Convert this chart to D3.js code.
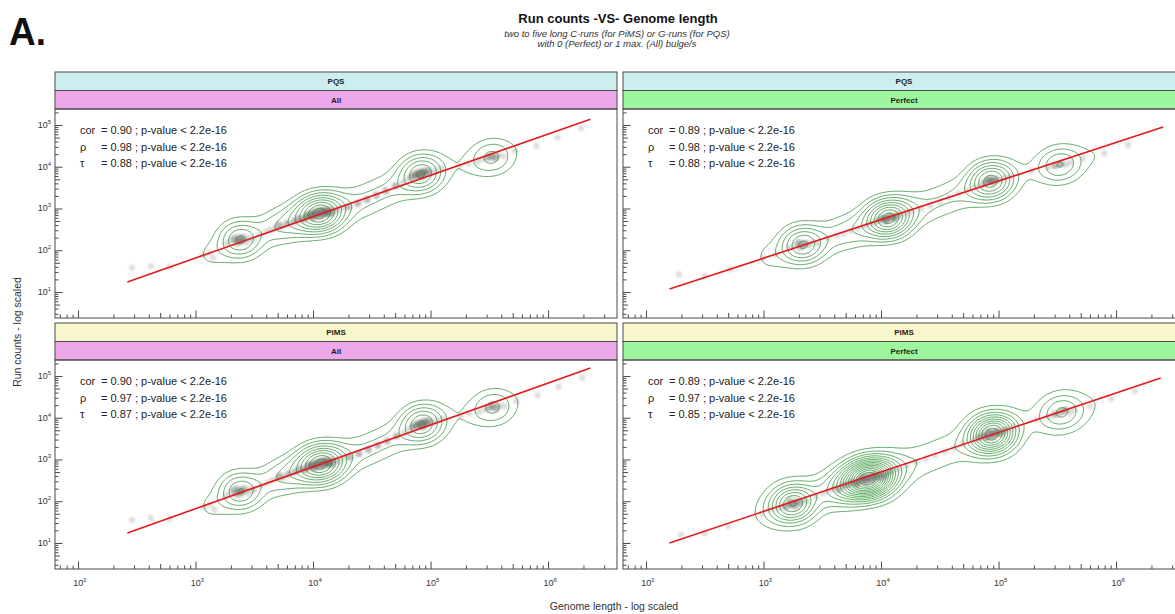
<!DOCTYPE html>
<html>
<head>
<meta charset="utf-8">
<script src="https://cdn.jsdelivr.net/npm/d3@7"></script>
<style>
  body { margin: 0; background: #fff; }
  svg { display: block; font-family: "Liberation Sans", Arial, sans-serif; }
</style>
</head>
<body>
<div id="vis"></div>
<script>
// ---- data (log10 units where noted) ----
const groups = ['PQS', 'PiMS'];
const bulges = ['All', 'Perfect'];

const pearson = [0.90, 0.89, 0.90, 0.89];
const spearman = [0.98, 0.98, 0.97, 0.97];
const kendall = [0.88, 0.88, 0.87, 0.85];
const pText = 'p-value < 2.2e-16';

const xTickExp = [2, 3, 4, 5, 6];
const yTickExp = [1, 2, 3, 4, 5];
const xDomain = [63.7, 3.86e6];
const yDomain = [2.38, 241500];

// regression line ends, [log10 genome length, log10 run count]
const fitLines = [
  [[2.42, 1.24], [6.36, 5.14]],
  [[2.20, 1.07], [6.40, 4.95]],
  [[2.42, 1.24], [6.36, 5.19]],
  [[2.20, 1.00], [6.38, 4.95]]
];

// genomes, [log10 genome length, log10 run count, genomes at that spot]
const pqsAll = [
  [2.46,1.58],[2.62,1.62],[2.78,1.60],
  [3.06,1.88],[3.12,1.94],[3.15,1.82],
  [3.26,2.16],[3.30,2.22],[3.33,2.28,2],[3.35,2.18,2],[3.37,2.25,2],[3.39,2.22,2],
  [3.40,2.30,2],[3.42,2.26],[3.44,2.20],[3.46,2.30],[3.49,2.27],[3.36,2.33],
  [3.55,2.38],[3.60,2.45],[3.64,2.50],[3.68,2.53],[3.71,2.60,2],[3.74,2.55],[3.78,2.64,2],
  [3.84,2.70,2],[3.88,2.76,2],[3.92,2.74,2],[3.95,2.82,3],[3.98,2.86,3],[4.00,2.80,3],
  [4.02,2.90,3],[4.04,2.86,3],[4.06,2.93,3],[4.08,2.88,3],[4.10,2.95,3],[4.12,2.91,3],
  [4.14,2.97,2],[4.16,2.90,2],[4.18,2.99],[4.21,2.95],[4.25,3.02],[4.07,2.80],[4.13,2.86,2],
  [4.30,3.04,2],[4.38,3.12,2],[4.46,3.22,2],[4.54,3.32,2],[4.62,3.42,2],[4.70,3.54,2],
  [4.76,3.62],[4.80,3.70],[4.84,3.76,2],[4.87,3.80,3],[4.90,3.84,3],[4.92,3.78,3],
  [4.94,3.88,3],[4.96,3.83,2],[4.98,3.90,2],[5.01,3.86],[5.05,3.93],[5.10,3.96],
  [5.40,4.12],[5.45,4.18],[5.49,4.22,2],[5.52,4.26,2],[5.55,4.21,2],[5.58,4.28],[5.62,4.25],
  [5.25,4.02],[5.32,4.08],[5.72,4.38],[5.90,4.50],[6.08,4.70],[6.28,4.92]
];

const pqsPerfect = [
  [2.28,1.42],[2.50,1.38],[2.72,1.54],
  [3.00,1.82],[3.10,1.90],
  [3.22,2.06],[3.27,2.12],[3.30,2.18,2],[3.33,2.10,2],[3.36,2.16,2],[3.39,2.12],
  [3.42,2.20],[3.46,2.16],[3.30,2.04],
  [3.55,2.28],[3.62,2.36],[3.68,2.40],[3.74,2.46],[3.80,2.52],
  [3.86,2.58],[3.90,2.64],[3.94,2.66],[3.98,2.72,2],[4.02,2.76,3],[4.05,2.74,3],
  [4.08,2.80,3],[4.11,2.78,2],[4.14,2.84,2],[4.18,2.86],[4.22,2.90],[4.26,2.94],
  [4.04,2.68],[4.12,2.72],
  [4.34,3.00],[4.42,3.08],[4.50,3.16],[4.58,3.26],[4.66,3.36],[4.73,3.44],
  [4.80,3.52],[4.85,3.58],[4.89,3.64,2],[4.92,3.68,3],[4.95,3.65,3],[4.98,3.70,2],
  [5.01,3.67],[5.05,3.74],[5.10,3.76],[4.88,3.56],
  [5.42,3.98],[5.48,4.03,2],[5.53,4.07,2],[5.57,4.05],[5.61,4.10],
  [5.28,3.90],[5.72,4.20],[5.90,4.32],[6.10,4.52]
];

const pimsAll = [
  [2.46,1.55],[2.62,1.60],[2.78,1.58],
  [3.07,1.86],[3.12,1.92],[3.16,1.80],
  [3.26,2.14],[3.30,2.21],[3.33,2.27,2],[3.35,2.17,2],[3.37,2.24,2],[3.39,2.20,2],
  [3.41,2.29,2],[3.43,2.25],[3.45,2.19],[3.47,2.30],[3.50,2.26],[3.36,2.32],
  [3.56,2.38],[3.61,2.44],[3.65,2.50],[3.69,2.54],[3.72,2.60,2],[3.75,2.56],[3.79,2.65,2],
  [3.85,2.71,2],[3.89,2.77,2],[3.93,2.75,2],[3.96,2.83,3],[3.99,2.87,3],[4.01,2.81,3],
  [4.03,2.91,3],[4.05,2.87,3],[4.07,2.94,3],[4.09,2.89,3],[4.11,2.96,3],[4.13,2.92,3],
  [4.15,2.98,2],[4.17,2.91,2],[4.19,3.00],[4.22,2.96],[4.26,3.04],[4.08,2.81],[4.14,2.87,2],
  [4.31,3.06,2],[4.39,3.14,2],[4.47,3.24,2],[4.55,3.34,2],[4.63,3.44,2],[4.71,3.56,2],
  [4.77,3.64],[4.81,3.72],[4.85,3.78,2],[4.88,3.82,3],[4.91,3.86,3],[4.93,3.80,3],
  [4.95,3.90,3],[4.97,3.85,2],[4.99,3.92,2],[5.02,3.88],[5.06,3.95],[5.11,3.98],
  [5.41,4.14],[5.46,4.20],[5.50,4.24,2],[5.53,4.28,2],[5.56,4.23,2],[5.59,4.30],[5.63,4.27],
  [5.26,4.04],[5.33,4.10],[5.73,4.40],[5.91,4.54],[6.09,4.74],[6.29,4.96]
];

const pimsPerfect = [
  [2.30,1.20],[2.50,1.24],[2.70,1.40],
  [2.98,1.70],[3.06,1.80],
  [3.12,1.82],[3.16,1.90],[3.19,1.86,2],[3.22,1.96,2],[3.25,1.92,3],[3.28,2.00,2],
  [3.31,1.96,2],[3.34,2.04],[3.37,2.00],[3.22,2.06],[3.28,1.84],
  [3.45,2.12],[3.51,2.20],[3.56,2.26],[3.60,2.32],[3.64,2.28,2],[3.68,2.38,2],
  [3.72,2.40,2],[3.76,2.46,2],[3.79,2.42,3],[3.82,2.50,3],[3.85,2.54,3],[3.87,2.48,3],
  [3.89,2.58,3],[3.92,2.54,3],[3.94,2.62,3],[3.97,2.58,3],[4.00,2.66,2],[4.03,2.62,2],
  [4.07,2.70,2],[4.11,2.74],[4.16,2.78],[4.22,2.84],[3.84,2.62],[3.93,2.46],[4.02,2.54],
  [4.30,2.94],[4.38,3.02],[4.46,3.10],[4.54,3.20],[4.62,3.28],[4.70,3.38],
  [4.78,3.46],[4.83,3.52,2],[4.87,3.58,2],[4.90,3.54,3],[4.93,3.63,3],[4.96,3.60,3],
  [4.99,3.66,3],[5.02,3.62,2],[5.05,3.70,2],[5.09,3.74],[5.14,3.78],[4.95,3.50],[4.90,3.70],
  [5.42,4.02],[5.48,4.08,2],[5.53,4.14,2],[5.57,4.18,2],[5.61,4.12],[5.65,4.20],
  [5.32,3.96],[5.78,4.28],[5.96,4.46],[6.16,4.64]
];

const panelPoints = [pqsAll, pqsPerfect, pimsAll, pimsPerfect];

// ---- layout ----
const W = 1175, H = 614;
const colX = [55, 623];
const rowY = [72, 323];
const pw = 562;
const stripH = 18.5;
const ph = 209;

const groupFill = { PQS: '#cdeeee', PiMS: '#f8f6cc' };
const bulgeFill = { All: '#eda8ea', Perfect: '#9df59d' };
const topLevels = [0.09, 0.17, 0.26, 0.36, 0.47, 0.58, 0.70, 0.82, 0.93];
const levelFrac = [topLevels, topLevels, topLevels, d3.range(0.07, 0.97, 0.065)];
const bandwidth = [11, 11, 11, 12];
const frame = '#4a4a4a';

const svg = d3.select('#vis').append('svg')
    .attr('width', W)
    .attr('height', H);

svg.append('defs').append('filter')
    .attr('id', 'soft')
  .append('feGaussianBlur')
    .attr('stdDeviation', 1.1);

const x = d3.scaleLog().domain(xDomain).range([0, pw]);
const y = d3.scaleLog().domain(yDomain).range([ph, 0]);

const lx = d => x(10 ** d[0]);
const ly = d => y(10 ** d[1]);
const wt = d => d[2] || 1;

// headers
svg.append('text')
    .attr('x', 9)
    .attr('y', 45)
    .attr('font-size', 38)
    .attr('font-weight', 'bold')
    .attr('textLength', 37)
    .attr('lengthAdjust', 'spacingAndGlyphs')
    .attr('fill', '#111')
    .text('A.');

svg.append('text')
    .attr('x', 618)
    .attr('y', 23)
    .attr('text-anchor', 'middle')
    .attr('font-size', 13)
    .attr('font-weight', 'bold')
    .attr('fill', '#111')
    .text('Run counts -VS- Genome length');

const sub = ['two to five long C-runs (for PiMS) or G-runs (for PQS)',
             'with 0 (Perfect) or 1 max. (All) bulge/s'];
sub.forEach((s, i) => {
  svg.append('text')
      .attr('x', 617)
      .attr('y', 37 + i * 10)
      .attr('text-anchor', 'middle')
      .attr('font-size', 9.5)
      .attr('font-style', 'italic')
      .attr('fill', '#333')
      .text(s);
});

svg.append('text')
    .attr('x', 614)
    .attr('y', 610)
    .attr('text-anchor', 'middle')
    .attr('font-size', 10.5)
    .attr('fill', '#333')
    .text('Genome length - log scaled');

svg.append('text')
    .attr('transform', 'translate(21, 332) rotate(-90)')
    .attr('text-anchor', 'middle')
    .attr('font-size', 10.5)
    .attr('fill', '#333')
    .text('Run counts - log scaled');

// ticks split by mantissa
const mant = v => Math.round(v / 10 ** Math.floor(Math.log10(v) + 1e-9));
const split = vals => [
  vals.filter(v => mant(v) !== 1 && mant(v) !== 5),
  vals.filter(v => mant(v) === 5),
  vals.filter(v => mant(v) === 1)
];
const [minorX, fiveX, majorX] = split(x.ticks());
const [minorY, fiveY, majorY] = split(y.ticks());

function tickLayer(g, axis, vals, size) {
  g.append('g')
      .call(axis.tickValues(vals).tickSize(-size).tickFormat(''))
      .call(s => s.select('.domain').remove())
      .call(s => s.selectAll('line').attr('stroke', frame));
}

groups.forEach((grp, r) => {
  bulges.forEach((blg, c) => {
    const i = r * 2 + c;
    const g = svg.append('g')
        .attr('transform', `translate(${colX[c]}, ${rowY[r]})`);

    // strips
    [[grp, groupFill[grp]], [blg, bulgeFill[blg]]].forEach(([lab, fill], k) => {
      g.append('rect')
          .attr('y', k * stripH)
          .attr('width', pw)
          .attr('height', stripH)
          .attr('fill', fill)
          .attr('stroke', frame);
      g.append('text')
          .attr('x', pw / 2)
          .attr('y', k * stripH + stripH / 2 + 3)
          .attr('text-anchor', 'middle')
          .attr('font-size', 8)
          .attr('font-weight', 'bold')
          .attr('fill', '#222')
          .text(lab);
    });

    const p = g.append('g')
        .attr('transform', `translate(0, ${2 * stripH})`);

    p.append('clipPath')
        .attr('id', `clip${i}`)
      .append('rect')
        .attr('width', pw)
        .attr('height', ph);

    const plot = p.append('g').attr('clip-path', `url(#clip${i})`);
    const pts = panelPoints[i];

    // gray genome points
    plot.append('g')
        .attr('filter', 'url(#soft)')
      .selectAll('circle')
      .data(pts)
      .join('circle')
        .attr('cx', lx)
        .attr('cy', ly)
        .attr('r', d => 2.6 + 0.5 * wt(d))
        .attr('fill', '#707070')
        .attr('fill-opacity', d => Math.min(0.6, 0.24 * wt(d)));

    // 2d density contours
    const density = d3.contourDensity()
        .x(lx)
        .y(ly)
        .weight(wt)
        .size([pw, ph])
        .cellSize(2)
        .bandwidth(bandwidth[i]);
    const grid = density.contours(pts);
    const levels = levelFrac[i].map(f => f * grid.max);

    plot.append('g')
      .selectAll('path')
      .data(levels)
      .join('path')
        .attr('d', l => d3.geoPath()(grid(l)))
        .attr('fill', 'none')
        .attr('stroke', '#2e8f35')
        .attr('stroke-opacity', 0.85)
        .attr('stroke-width', 0.9);

    // regression line
    plot.append('path')
        .datum(fitLines[i])
        .attr('d', d3.line().x(lx).y(ly))
        .attr('fill', 'none')
        .attr('stroke', '#e31a1c')
        .attr('stroke-width', 1.6);

    // correlation text
    const stats = [['cor', pearson[i]], ['\u03c1', spearman[i]], ['\u03c4', kendall[i]]];
    stats.forEach(([lab, v], k) => {
      const t = p.append('text')
          .attr('y', 25 + k * 16.5)
          .attr('font-size', 11)
          .attr('fill', '#222');
      t.append('tspan').attr('x', 25).text(lab);
      t.append('tspan').attr('x', 46).text(`= ${v.toFixed(2)} ; ${pText}`);
    });

    // ticks (inward)
    const bottom = p.append('g').attr('transform', `translate(0, ${ph})`);
    tickLayer(bottom, d3.axisBottom(x), minorX, 3.5);
    tickLayer(bottom, d3.axisBottom(x), fiveX, 5);
    tickLayer(bottom, d3.axisBottom(x), majorX, 7.5);
    tickLayer(p, d3.axisLeft(y), minorY, 3.5);
    tickLayer(p, d3.axisLeft(y), fiveY, 5);
    tickLayer(p, d3.axisLeft(y), majorY, 7.5);

    // frame
    p.append('rect')
        .attr('width', pw)
        .attr('height', ph)
        .attr('fill', 'none')
        .attr('stroke', frame);

    // tick labels
    if (c === 0) {
      yTickExp.forEach(e => {
        const t = p.append('text')
            .attr('x', -4)
            .attr('y', y(10 ** e) + 3)
            .attr('text-anchor', 'end')
            .attr('font-size', 9)
            .attr('fill', '#333');
        t.append('tspan').text('10');
        t.append('tspan').attr('font-size', 6).attr('dy', -4).text(e);
      });
    }
    if (r === 1) {
      xTickExp.forEach(e => {
        const t = p.append('text')
            .attr('x', x(10 ** e) + 2)
            .attr('y', ph + 17)
            .attr('text-anchor', 'middle')
            .attr('font-size', 9)
            .attr('fill', '#333');
        t.append('tspan').text('10');
        t.append('tspan').attr('font-size', 6).attr('dy', -4).text(e);
      });
    }
  });
});
</script>
</body>
</html>
